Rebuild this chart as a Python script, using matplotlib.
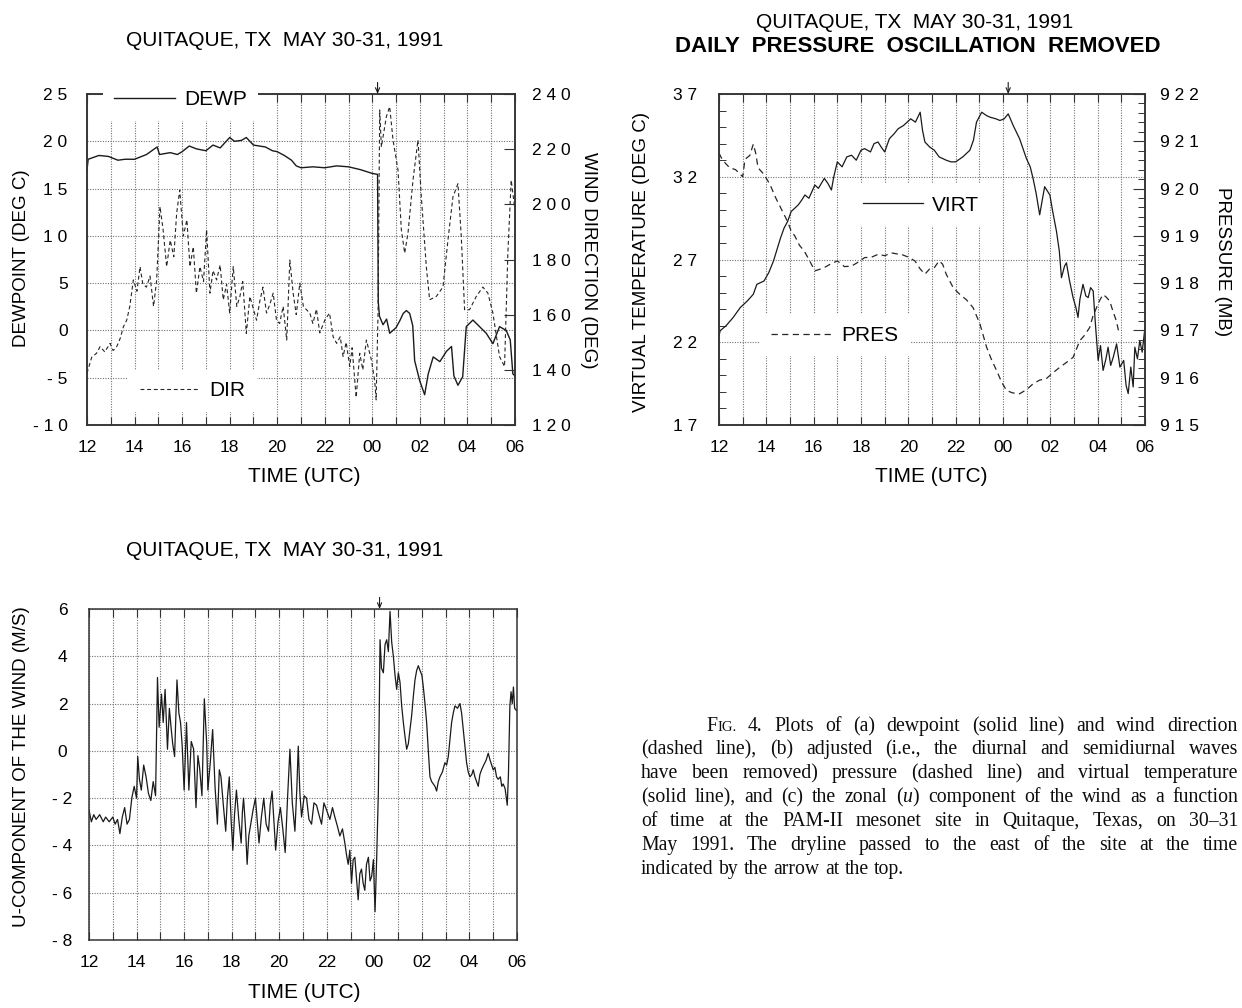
import matplotlib
matplotlib.use("Agg")
import matplotlib.pyplot as plt
from matplotlib.ticker import FixedLocator, MultipleLocator, FuncFormatter

plt.rcParams["font.family"] = ["Liberation Sans", "DejaVu Sans"]
plt.rcParams["mathtext.fontset"] = "custom"
plt.rcParams["mathtext.it"] = "Liberation Serif:italic"
plt.rcParams["mathtext.rm"] = "Liberation Serif"

# ---------------------------------------------------------------- data
# time in hours from 00 UTC 30 May (12 -> 30 = 12 UTC 30 May .. 06 UTC 31 May)
DRYLINE_T = 24.22

DEWP_T = [12.0, 12.05, 12.5, 12.9, 13.3, 13.6, 14.0, 14.5, 14.95, 15.05, 15.5, 15.8,
          16.0, 16.3, 16.6, 17.0, 17.3, 17.6, 18.0, 18.2, 18.5, 18.7, 19.0, 19.5,
          19.8, 20.0, 20.3, 20.6, 20.8, 21.0, 21.5, 22.0, 22.5, 23.0, 23.5, 24.0,
          24.22, 24.25, 24.3, 24.45, 24.6, 24.73, 25.0, 25.15, 25.3, 25.43, 25.57, 25.7,
          25.78, 25.99, 26.2, 26.35, 26.56, 26.84, 27.12, 27.33, 27.43, 27.6, 27.8, 27.95,
          28.23, 28.51, 28.79, 29.07, 29.35, 29.63, 29.8, 29.91, 30.0]
DEWP = [17.0, 18.1, 18.5, 18.4, 18.0, 18.1, 18.1, 18.6, 19.4, 18.6, 18.8, 18.6,
        18.9, 19.5, 19.2, 19.0, 19.6, 19.3, 20.4, 20.0, 20.1, 20.4, 19.6, 19.4,
        19.0, 18.9, 18.5, 18.0, 17.4, 17.2, 17.3, 17.2, 17.4, 17.3, 17.0, 16.6,
        16.5, 3.0, 1.5, 0.6, 1.2, -0.3, 0.3, 1.0, 1.8, 2.1, 1.8, 0.5,
        -3.2, -5.3, -6.8, -4.6, -2.8, -3.3, -2.2, -1.7, -4.8, -5.8, -4.9, 0.4,
        1.1, 0.4, -0.3, -1.4, 0.4, 0.0, -1.0, -4.6, -4.8]

DIR_T = [12.0, 12.2, 12.4, 12.55, 12.75, 12.97, 13.1, 13.25, 13.4, 13.53, 13.67, 13.8,
         13.95, 14.1, 14.23, 14.35, 14.5, 14.65, 14.8, 14.93, 15.07, 15.2, 15.35, 15.5,
         15.65, 15.77, 15.9, 16.05, 16.2, 16.33, 16.47, 16.6, 16.75, 16.9, 17.03, 17.17,
         17.3, 17.45, 17.6, 17.73, 17.87, 18.0, 18.15, 18.3, 18.43, 18.55, 18.7, 18.85,
         19.0, 19.13, 19.27, 19.4, 19.55, 19.7, 19.83, 19.97, 20.1, 20.25, 20.4, 20.53,
         20.67, 20.8, 20.95, 21.1, 21.23, 21.37, 21.5, 21.65, 21.79, 22.0, 22.2, 22.35,
         22.5, 22.65, 22.77, 22.9, 23.05, 23.15, 23.26, 23.32, 23.47, 23.6, 23.75, 23.96,
         24.1, 24.16, 24.24, 24.31, 24.38, 24.48, 24.59, 24.73, 24.87, 25.08, 25.22, 25.36,
         25.5, 25.71, 25.92, 26.06, 26.27, 26.41, 26.69, 26.97, 27.18, 27.39, 27.6, 27.74,
         27.88, 28.09, 28.37, 28.65, 28.86, 29.07, 29.35, 29.56, 29.7, 29.84, 29.98]
DIR = [138.8, 144.6, 146.0, 148.4, 146.5, 149.6, 147.0, 148.4, 151.5, 155.6, 158.0, 163.0,
       172.6, 168.5, 177.4, 171.0, 170.0, 174.0, 163.0, 172.6, 199.2, 190.8, 177.4, 187.0,
       181.0, 196.7, 205.2, 188.5, 194.4, 177.4, 184.6, 167.8, 177.4, 172.0, 190.8, 167.8,
       176.0, 172.6, 178.0, 165.4, 171.0, 160.6, 177.4, 163.0, 166.6, 172.0, 153.2, 166.6,
       162.0, 158.0, 165.0, 170.0, 160.6, 164.0, 167.8, 158.0, 156.8, 163.0, 150.8, 179.8,
       167.8, 160.0, 171.4, 163.0, 161.8, 160.6, 156.8, 162.0, 153.4, 158.0, 160.6, 152.0,
       149.6, 152.0, 144.8, 150.0, 141.2, 148.0, 136.3, 130.0, 146.0, 140.0, 150.8, 143.6,
       136.0, 129.1, 160.6, 234.2, 220.8, 226.0, 231.8, 235.4, 223.3, 212.4, 190.8, 182.3,
       189.6, 208.8, 223.3, 202.7, 177.4, 165.4, 166.6, 170.0, 187.0, 202.7, 207.5, 188.5,
       161.8, 161.8, 166.6, 170.0, 167.8, 160.6, 144.8, 141.2, 182.3, 208.8, 199.2]

VIRT_T = [12.0, 12.05, 12.3, 12.6, 12.9, 13.2, 13.45, 13.6, 13.9, 14.1, 14.3, 14.45,
          14.6, 14.75, 14.9, 15.05, 15.35, 15.5, 15.63, 15.8, 16.05, 16.2, 16.45, 16.6,
          16.75, 16.85, 17.0, 17.2, 17.4, 17.6, 17.8, 18.0, 18.15, 18.4, 18.55, 18.72,
          18.85, 19.0, 19.2, 19.4, 19.57, 19.8, 20.1, 20.3, 20.5, 20.6, 20.7, 20.9,
          21.1, 21.3, 21.6, 21.8, 22.0, 22.3, 22.6, 22.75, 22.88, 23.1, 23.3, 23.45,
          23.7, 23.87, 24.05, 24.22, 24.43, 24.7, 24.99, 25.15, 25.27, 25.4, 25.48, 25.55,
          25.66, 25.76, 25.98, 26.1, 26.26, 26.38, 26.47, 26.6, 26.68, 26.8, 26.96, 27.08,
          27.17, 27.25, 27.38, 27.5, 27.6, 27.7, 27.81, 27.9, 28.02, 28.12, 28.23, 28.35,
          28.44, 28.55, 28.66, 28.8, 28.94, 29.1, 29.2, 29.29, 29.4, 29.5, 29.57, 29.68,
          29.78, 29.88, 30.0]
VIRT = [22.4, 22.7, 23.0, 23.5, 24.1, 24.5, 24.9, 25.5, 25.7, 26.2, 26.9, 27.6,
        28.3, 28.9, 29.3, 29.9, 30.3, 30.6, 30.9, 30.7, 31.5, 31.3, 31.9, 31.6,
        31.2, 32.0, 32.9, 32.6, 33.2, 33.3, 33.0, 33.6, 33.7, 33.5, 34.0, 34.1,
        33.8, 33.5, 34.3, 34.6, 34.9, 35.1, 35.5, 35.3, 35.9, 34.8, 34.1, 33.8,
        33.6, 33.2, 33.0, 32.9, 32.9, 33.2, 33.6, 34.2, 35.3, 35.9, 35.7, 35.6,
        35.5, 35.4, 35.5, 35.8, 35.1, 34.3, 33.1, 32.6, 31.9, 31.0, 30.3, 29.7,
        30.6, 31.4, 30.9, 29.9, 28.7, 27.5, 25.9, 26.6, 26.8, 25.8, 24.7, 24.1,
        23.5, 24.6, 25.5, 24.8, 24.7, 25.3, 25.1, 23.2, 20.9, 21.8, 20.3, 21.0,
        21.7, 20.6, 21.1, 21.9, 20.5, 20.9, 19.4, 18.9, 20.5, 19.3, 21.7, 21.0,
        22.1, 21.4, 22.9]

PRES_T = [12.0, 12.15, 12.45, 12.7, 12.9, 13.0, 13.1, 13.3, 13.45, 13.55, 13.65, 13.9,
          14.15, 14.4, 14.6, 14.9, 15.05, 15.2, 15.4, 15.6, 15.8, 16.05, 16.3, 16.45,
          16.7, 17.0, 17.3, 17.6, 17.9, 18.15, 18.45, 18.72, 19.0, 19.28, 19.5, 19.7,
          20.0, 20.28, 20.5, 20.7, 20.9, 21.1, 21.3, 21.45, 21.6, 21.9, 22.18, 22.45,
          22.74, 23.03, 23.31, 23.5, 23.73, 23.95, 24.15, 24.4, 24.7, 25.0, 25.27, 25.55,
          25.83, 26.1, 26.4, 26.7, 26.96, 27.1, 27.24, 27.45, 27.66, 27.8, 27.95, 28.1,
          28.23, 28.37, 28.51, 28.65, 28.79, 28.9]
PRES = [920.75, 920.6, 920.44, 920.4, 920.3, 920.25, 920.62, 920.7, 920.94, 920.75, 920.44, 920.3,
        920.09, 919.8, 919.6, 919.3, 919.1, 919.0, 918.8, 918.68, 918.5, 918.26, 918.3, 918.33,
        918.4, 918.47, 918.35, 918.36, 918.45, 918.54, 918.55, 918.61, 918.58, 918.64, 918.62, 918.61,
        918.55, 918.47, 918.3, 918.19, 918.3, 918.33, 918.47, 918.4, 918.19, 917.9, 917.76, 917.65,
        917.48, 917.13, 916.64, 916.4, 916.15, 915.9, 915.73, 915.68, 915.66, 915.75, 915.87, 915.95,
        915.98, 916.1, 916.22, 916.33, 916.43, 916.6, 916.78, 916.9, 917.06, 917.3, 917.48, 917.65,
        917.76, 917.7, 917.62, 917.4, 917.2, 916.95]

U_T = [12.0, 12.1, 12.2, 12.3, 12.45, 12.6, 12.7, 12.85, 13.0, 13.1, 13.2, 13.3,
       13.4, 13.5, 13.6, 13.7, 13.8, 13.9, 14.0, 14.05, 14.12, 14.2, 14.3, 14.4,
       14.5, 14.6, 14.7, 14.8, 14.88, 14.95, 15.05, 15.12, 15.2, 15.3, 15.38, 15.45,
       15.52, 15.6, 15.7, 15.78, 15.85, 15.92, 16.0, 16.1, 16.2, 16.3, 16.4, 16.5,
       16.58, 16.65, 16.75, 16.85, 16.95, 17.0, 17.1, 17.2, 17.3, 17.4, 17.48, 17.55,
       17.65, 17.75, 17.82, 17.9, 17.98, 18.05, 18.12, 18.2, 18.3, 18.4, 18.45, 18.5,
       18.58, 18.65, 18.72, 18.8, 18.9, 19.0, 19.08, 19.15, 19.25, 19.35, 19.45, 19.55,
       19.62, 19.7, 19.78, 19.85, 19.95, 20.05, 20.15, 20.25, 20.35, 20.45, 20.55, 20.66,
       20.74, 20.8, 20.87, 20.94, 21.05, 21.15, 21.25, 21.36, 21.46, 21.57, 21.67, 21.78,
       21.88, 21.99, 22.13, 22.24, 22.34, 22.45, 22.55, 22.66, 22.76, 22.83, 22.9, 22.97,
       23.04, 23.11, 23.18, 23.25, 23.32, 23.39, 23.46, 23.53, 23.6, 23.67, 23.75, 23.82,
       23.89, 23.96, 24.03, 24.1, 24.17, 24.24, 24.3, 24.38, 24.45, 24.52, 24.59, 24.66,
       24.73, 24.8, 24.87, 24.94, 25.01, 25.08, 25.15, 25.22, 25.29, 25.36, 25.43, 25.5,
       25.57, 25.64, 25.71, 25.78, 25.85, 25.92, 26.0, 26.06, 26.13, 26.2, 26.27, 26.34,
       26.41, 26.48, 26.55, 26.62, 26.69, 26.76, 26.86, 26.97, 27.04, 27.11, 27.18, 27.25,
       27.32, 27.39, 27.5, 27.6, 27.67, 27.74, 27.81, 27.88, 27.95, 28.02, 28.1, 28.16,
       28.23, 28.3, 28.37, 28.44, 28.51, 28.6, 28.7, 28.79, 28.87, 29.0, 29.07, 29.14,
       29.21, 29.3, 29.36, 29.42, 29.5, 29.59, 29.64, 29.7, 29.75, 29.8, 29.85, 29.9, 29.98]
U = [-2.5, -3.0, -2.7, -2.9, -2.7, -3.0, -2.8, -3.0, -2.8, -3.1, -2.9, -3.5,
     -2.8, -2.4, -3.1, -2.9, -2.0, -1.5, -2.0, -0.24, -1.2, -1.66, -0.6, -1.1,
     -1.8, -2.1, -1.3, -1.9, 3.1, 1.0, 2.4, 1.2, 2.6, 0.07, 1.8, 1.0,
     0.3, -0.24, 3.0, 1.6, 1.2, 0.2, -1.66, 1.2, -1.66, 0.4, 0.07, -2.4,
     -0.2, -0.7, -1.9, 2.2, 0.3, -1.66, -0.5, 0.9, -1.5, -3.1, -0.8, -1.1,
     -2.3, -3.4, -2.0, -1.1, -3.0, -4.2, -2.7, -1.66, -2.9, -3.9, -2.6, -2.0,
     -3.2, -4.8, -3.6, -3.1, -2.5, -2.0, -3.0, -3.9, -2.8, -2.0, -3.1, -3.4,
     -2.3, -1.7, -3.0, -4.2, -3.0, -2.4, -3.3, -4.3, -2.0, 0.07, -2.2, -3.4,
     -1.6, 0.2, -1.8, -2.8, -1.9, -2.0, -2.9, -3.1, -2.2, -2.3, -2.7, -3.1,
     -2.2, -2.5, -2.9, -2.4, -2.8, -3.2, -3.6, -3.3, -3.9, -4.4, -4.8, -4.2,
     -5.6, -4.6, -4.5, -5.4, -6.3, -5.2, -5.0, -5.6, -5.9, -4.8, -4.5, -5.5,
     -5.3, -4.6, -6.8, -4.5, -1.7, 4.7, 3.5, 3.3, 4.5, 4.7, 4.2, 5.9,
     4.6, 4.0, 3.2, 2.6, 3.3, 2.9, 1.9, 1.2, 0.6, 0.07, 0.3, 0.9,
     1.5, 2.3, 3.0, 3.4, 3.6, 3.4, 3.2, 2.7, 2.0, 1.2, 0.0, -1.1,
     -1.3, -1.4, -1.5, -1.7, -1.3, -1.1, -0.9, -0.5, -0.6, -0.24, 0.5, 1.2,
     1.6, 1.9, 1.8, 2.0, 1.6, 0.9, 0.2, -0.5, -0.9, -1.1, -1.0, -0.8,
     -1.1, -1.3, -1.5, -1.0, -0.8, -0.6, -0.4, -0.1, -0.4, -0.8, -0.7, -1.1,
     -1.2, -1.1, -1.5, -1.4, -1.6, -2.3, -1.0, 1.9, 2.5, 2.0, 2.7, 1.8, 1.7]

DEWP_TICKS = [-10, -5, 0, 5, 10, 15, 20, 25]
DIR_TICKS = [120, 140, 160, 180, 200, 220, 240]
VIRT_TICKS = [17, 22, 27, 32, 37]
PRES_TICKS = [915, 916, 917, 918, 919, 920, 921, 922]
U_TICKS = [-8, -6, -4, -2, 0, 2, 4, 6]

TITLE = "QUITAQUE, TX  MAY 30-31, 1991"
CAPTION_HEAD = "4. Plots of (a) dewpoint (solid line) and wind direction"
CAPTION = [
    "(dashed line), (b) adjusted (i.e., the diurnal and semidiurnal waves",
    "have been removed) pressure (dashed line) and virtual temperature",
    "(solid line), and (c) the zonal ($u$) component of the wind as a function",
    "of time at the PAM-II mesonet site in Quitaque, Texas, on 30\u201331",
    "May 1991. The dryline passed to the east of the site at the time",
    "indicated by the arrow at the top.",
]

# ---------------------------------------------------------------- helpers
W, H = 1242, 1008
INK = "0.1"
GRID = dict(color="0.45", ls=(0, (1, 1.3)), lw=0.8)


def rect(x0, y0, x1, y1):
    return [x0 / W, 1 - y1 / H, (x1 - x0) / W, (y1 - y0) / H]


def spaced(v, pos=None):
    return " ".join(str(int(round(v))))


def hour_fmt(v, pos=None):
    return f"{int(round(v)) % 24:02d}"


def fig_text(x, y, s, **kw):
    return fig.text(x / W, 1 - y / H, s, ha="center", va="center", **kw)


def style_spines(ax):
    for s in ax.spines.values():
        s.set_color("0.2")
        s.set_linewidth(1.1)


def time_axis(ax):
    ax.set_xlim(12, 30)
    ax.xaxis.set_major_locator(MultipleLocator(2))
    ax.xaxis.set_minor_locator(MultipleLocator(1))
    ax.xaxis.set_major_formatter(FuncFormatter(hour_fmt))
    ax.tick_params(axis="x", which="both", direction="in", length=6, width=0.8,
                   top=True, labelsize=12.5, pad=11, color="0.2")
    ax.grid(True, axis="x", which="both", **GRID)
    ax.grid(True, axis="y", which="major", **GRID)
    style_spines(ax)
    ax.set_axisbelow(True)


def dryline_arrow(ax):
    ax.annotate("", xy=(DRYLINE_T, 1.0), xycoords=("data", "axes fraction"),
                xytext=(DRYLINE_T, 1.035), textcoords=("data", "axes fraction"),
                arrowprops=dict(arrowstyle="->,head_length=0.35,head_width=0.15",
                                lw=0.8, color=INK, shrinkA=0, shrinkB=0))


def key(ax, handle, label, x, y):
    leg = ax.legend([handle], [label], loc="center left", bbox_to_anchor=(x, y),
                    borderaxespad=0, frameon=True, facecolor="white", edgecolor="none",
                    framealpha=1, fancybox=False, fontsize=15, handlelength=2.9,
                    handletextpad=0.45, borderpad=0.55)
    ax.add_artist(leg)


fig = plt.figure(figsize=(W / 100, H / 100), dpi=100)

# ---------------------------------------------------------------- (a) dewpoint + wind direction
axA = fig.add_axes(rect(87, 94, 515, 425))
time_axis(axA)
axA.set_ylim(-10, 25)
axA.yaxis.set_major_locator(FixedLocator(DEWP_TICKS))
axA.yaxis.set_major_formatter(FuncFormatter(spaced))
axA.tick_params(axis="y", length=0, labelsize=12.5, pad=14)
l_dewp, = axA.plot(DEWP_T, DEWP, color=INK, lw=1.0)

axA2 = axA.twinx()
axA2.set_ylim(120, 240)
axA2.yaxis.set_major_locator(FixedLocator(DIR_TICKS))
axA2.yaxis.set_major_formatter(FuncFormatter(spaced))
axA2.tick_params(axis="y", direction="in", length=8, width=0.8, labelsize=12.5, pad=12,
                 color="0.2")
style_spines(axA2)
l_dir, = axA2.plot(DIR_T, DIR, color="0.15", lw=0.8, ls=(0, (3.5, 2.5)))
key(axA2, l_dewp, "DEWP", 0.037, 0.982)
key(axA2, l_dir, "DIR", 0.096, 0.103)
dryline_arrow(axA2)

fig_text(285, 41, TITLE, fontsize=15)
fig_text(22, 258, "DEWPOINT (DEG C)", fontsize=13.5, rotation=90)
fig_text(589, 260, "WIND DIRECTION (DEG)", fontsize=13.5, rotation=270)
fig_text(304, 477, "TIME (UTC)", fontsize=15)

# ---------------------------------------------------------------- (b) virtual temperature + pressure
axB = fig.add_axes(rect(719, 94, 1145, 425))
time_axis(axB)
axB.set_ylim(17, 37)
axB.yaxis.set_major_locator(FixedLocator(VIRT_TICKS))
axB.yaxis.set_minor_locator(MultipleLocator(1))
axB.yaxis.set_major_formatter(FuncFormatter(spaced))
axB.tick_params(axis="y", which="major", length=0, labelsize=12.5, pad=16)
axB.tick_params(axis="y", which="minor", direction="in", length=5, width=0.7, color="0.2")
l_virt, = axB.plot(VIRT_T, VIRT, color=INK, lw=0.9)

axB2 = axB.twinx()
axB2.set_ylim(915, 922)
axB2.yaxis.set_major_locator(FixedLocator(PRES_TICKS))
axB2.yaxis.set_minor_locator(MultipleLocator(0.2))
axB2.yaxis.set_major_formatter(FuncFormatter(spaced))
axB2.tick_params(axis="y", which="major", direction="in", length=9, width=0.8,
                 labelsize=12.5, pad=11, color="0.2")
axB2.tick_params(axis="y", which="minor", direction="in", length=5, width=0.7, color="0.2")
style_spines(axB2)
l_pres, = axB2.plot(PRES_T, PRES, color="0.15", lw=0.9, ls=(0, (5, 3.5)))
key(axB2, l_virt, "VIRT", 0.31, 0.664)
key(axB2, l_pres, "PRES", 0.096, 0.271)
dryline_arrow(axB2)

fig_text(915, 22, TITLE, fontsize=15)
fig_text(918, 47, "DAILY  PRESSURE  OSCILLATION  REMOVED", fontsize=16, fontweight="bold")
fig_text(641, 262, "VIRTUAL TEMPERATURE (DEG C)", fontsize=13.5, rotation=90)
fig_text(1222, 262, "PRESSURE (MB)", fontsize=13.5, rotation=270)
fig_text(931, 477, "TIME (UTC)", fontsize=15)

# ---------------------------------------------------------------- (c) u-component
axC = fig.add_axes(rect(89, 609, 517, 940))
time_axis(axC)
axC.set_ylim(-8, 6)
axC.yaxis.set_major_locator(FixedLocator(U_TICKS))
axC.yaxis.set_major_formatter(FuncFormatter(spaced))
axC.tick_params(axis="y", length=0, labelsize=12.5, pad=19)
for lab in axC.get_yticklabels():
    lab.set_horizontalalignment("center")
axC.plot(U_T, U, color=INK, lw=0.9)
dryline_arrow(axC)

fig_text(285, 550, TITLE, fontsize=15)
fig_text(22, 767, "U-COMPONENT OF THE WIND (M/S)", fontsize=13.5, rotation=90)
fig_text(304, 992, "TIME (UTC)", fontsize=15)

# ---------------------------------------------------------------- caption (justified)
renderer = fig.canvas.get_renderer()
CAP_SIZE = 14.2
serif = dict(family="Liberation Serif", color="0.05", va="baseline", ha="left")


def set_line(tokens, x0, y, x1=None):
    """tokens: (word, fontsize, glued_to_previous). Justify to x1 if given."""
    texts, widths = [], []
    for word, size, _ in tokens:
        t = fig.text(0, 1 - y / H, word, fontsize=size, **serif)
        texts.append(t)
        widths.append(t.get_window_extent(renderer).width)
    n_gaps = sum(1 for _, _, glued in tokens[1:] if not glued)
    if x1 is None or n_gaps == 0:
        gap = 0.27 * CAP_SIZE * 100 / 72
    else:
        gap = (x1 - x0 - sum(widths)) / n_gaps
    x = x0
    for i, (t, w) in enumerate(zip(texts, widths)):
        if i > 0 and not tokens[i][2]:
            x += gap
        t.set_x(x / W)
        x += w


RIGHT = 1238
head = [("F", CAP_SIZE, False), ("IG.", CAP_SIZE * 0.75, True)]
head += [(w, CAP_SIZE, False) for w in CAPTION_HEAD.split(" ")]
set_line(head, 706, 731, RIGHT)
for i, line in enumerate(CAPTION):
    toks = [(w, CAP_SIZE, False) for w in line.split(" ")]
    last = i == len(CAPTION) - 1
    set_line(toks, 641, 754 + 24 * i, None if last else RIGHT)

fig.savefig("out.png", dpi=100)
